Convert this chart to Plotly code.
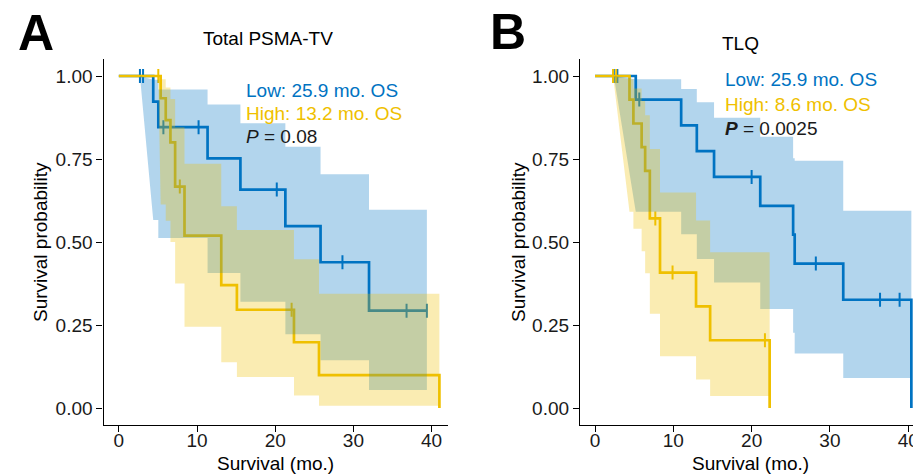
import plotly.graph_objects as go

# ---------------- data ----------------
# Panel A: Total PSMA-TV
a_low_t = [0, 4.4, 5.05, 11.35, 15.55, 21.3, 25.8, 32.0, 39.4]
a_low_s = [1.0, 0.923, 0.846, 0.752, 0.658, 0.548, 0.439, 0.293, 0.293]
a_low_cens = [2.7, 3.1, 5.7, 10.2, 20.2, 28.6, 36.8, 39.4]
a_low_ci_t = [2.7, 4.4, 5.05, 11.35, 15.55, 21.3, 25.8, 32.0]
a_low_ci_lo = [1.0, 0.566, 0.512, 0.407, 0.320, 0.222, 0.144, 0.054]
a_low_ci_hi = [1.0, 0.989, 0.959, 0.914, 0.858, 0.787, 0.704, 0.597]
a_low_ci_end = 39.4

a_high_t = [0, 5.35, 6.0, 6.6, 7.2, 8.4, 13.1, 15.1, 22.4, 25.6, 41.0]
a_high_s = [1.0, 0.933, 0.867, 0.800, 0.667, 0.519, 0.370, 0.296, 0.198, 0.099, 0.0]
a_high_cens = [5.05, 7.8, 22.1]
a_high_ci_t = [5.05, 5.35, 6.0, 6.6, 7.2, 8.4, 13.1, 15.1, 22.4, 25.6]
a_high_ci_lo = [1.0, 0.613, 0.564, 0.500, 0.375, 0.245, 0.138, 0.093, 0.038, 0.007]
a_high_ci_hi = [1.0, 0.990, 0.965, 0.931, 0.846, 0.736, 0.608, 0.536, 0.448, 0.344]
a_high_ci_end = 41.0

# Panel B: TLQ
b_low_t = [0, 5.2, 11.0, 13.0, 15.2, 21.1, 25.3, 25.5, 31.7, 40.4]
b_low_s = [1.0, 0.929, 0.851, 0.774, 0.696, 0.609, 0.522, 0.435, 0.326, 0.0]
b_low_cens = [2.4, 2.85, 5.65, 20.0, 28.2, 36.4, 38.9]
b_low_ci_t = [2.4, 5.2, 11.0, 13.0, 15.2, 21.1, 25.3, 25.5, 31.7]
b_low_ci_lo = [1.0, 0.591, 0.523, 0.449, 0.378, 0.298, 0.227, 0.164, 0.090]
b_low_ci_hi = [1.0, 0.990, 0.961, 0.921, 0.874, 0.817, 0.752, 0.745, 0.594]
b_low_ci_end = 40.4

b_high_t = [0, 4.4, 4.9, 5.95, 6.4, 7.0, 8.3, 12.9, 14.7, 22.3]
b_high_s = [1.0, 0.929, 0.857, 0.786, 0.714, 0.571, 0.408, 0.306, 0.204, 0.0]
b_high_cens = [2.3, 2.7, 7.7, 9.9, 21.7]
b_high_ci_t = [2.3, 4.4, 4.9, 5.95, 6.4, 7.0, 8.3, 12.9, 14.7]
b_high_ci_lo = [1.0, 0.591, 0.540, 0.472, 0.406, 0.284, 0.156, 0.086, 0.036]
b_high_ci_hi = [1.0, 0.990, 0.962, 0.925, 0.882, 0.780, 0.649, 0.565, 0.469]
b_high_ci_end = 22.3

x_ticks = [0, 10, 20, 30, 40]
y_ticks = [0, 0.25, 0.5, 0.75, 1.0]

BLUE = "#0073C2"
YELLOW = "#EFC000"
BLUE_FILL = "rgba(0,115,194,0.30)"
YELLOW_FILL = "rgba(239,192,0,0.30)"
FONT = "Liberation Sans, Arial, sans-serif"
W, H = 913, 475


def surv_at(t, times, surv):
    val = surv[0]
    for ti, si in zip(times, surv):
        if ti <= t:
            val = si
    return val


def ribbon(t, lo, hi, t_end):
    def path(v):
        xs, ys = [t[0]], [v[0]]
        for i in range(1, len(t)):
            if i > 1:
                xs.append(t[i]); ys.append(v[i - 1])
            xs.append(t[i]); ys.append(v[i])
        xs.append(t_end); ys.append(v[-1])
        return xs, ys
    xu, yu = path(hi)
    xl, yl = path(lo)
    return xu + xl[::-1], yu + yl[::-1]


fig = go.Figure()

panels = [
    ("x", "y", [(a_low_t, a_low_s, a_low_cens, BLUE), (a_high_t, a_high_s, a_high_cens, YELLOW)],
     [(a_low_ci_t, a_low_ci_lo, a_low_ci_hi, a_low_ci_end, BLUE_FILL),
      (a_high_ci_t, a_high_ci_lo, a_high_ci_hi, a_high_ci_end, YELLOW_FILL)]),
    ("x2", "y2", [(b_low_t, b_low_s, b_low_cens, BLUE), (b_high_t, b_high_s, b_high_cens, YELLOW)],
     [(b_low_ci_t, b_low_ci_lo, b_low_ci_hi, b_low_ci_end, BLUE_FILL),
      (b_high_ci_t, b_high_ci_lo, b_high_ci_hi, b_high_ci_end, YELLOW_FILL)]),
]

for xa, ya, curves, ribbons in panels:
    for t, s, cens, col in curves:
        fig.add_trace(go.Scatter(x=t, y=s, mode="lines", line=dict(color=col, width=2.7, shape="hv"),
                                 xaxis=xa, yaxis=ya, showlegend=False, hoverinfo="skip"))
        fig.add_trace(go.Scatter(x=cens, y=[surv_at(c, t, s) for c in cens], mode="markers",
                                 marker=dict(symbol="line-ns", size=10, line=dict(color=col, width=2)),
                                 xaxis=xa, yaxis=ya, showlegend=False, hoverinfo="skip"))
    for ct, lo, hi, tend, fc in ribbons:
        px, py = ribbon(ct, lo, hi, tend)
        fig.add_trace(go.Scatter(x=px, y=py, mode="lines", fill="toself", fillcolor=fc,
                                 line=dict(width=0), xaxis=xa, yaxis=ya, showlegend=False,
                                 hoverinfo="skip"))

ydom = [(H - 424.6) / H, (H - 59.4) / H]
axis_common = dict(showline=True, linecolor="black", linewidth=1.3, ticks="outside", ticklen=6,
                   tickwidth=1.3, tickcolor="black", showgrid=False, zeroline=False, automargin=False,
                   tickfont=dict(family=FONT, size=19, color="#1a1a1a"))
x_extra = dict(ticklabelstandoff=-8, ticklabeloverflow="allow")

fig.update_layout(
    width=W, height=H, margin=dict(l=0, r=0, t=0, b=0, pad=0, autoexpand=False),
    paper_bgcolor="white", plot_bgcolor="white",
    xaxis=dict(domain=[103.5 / W, 448 / W], range=[-1.96, 42.1], tickvals=x_ticks, anchor="y",
               **x_extra, **axis_common),
    yaxis=dict(domain=ydom, range=[-0.05, 1.05], tickvals=y_ticks, tickformat=".2f", anchor="x", **axis_common),
    xaxis2=dict(domain=[580 / W, 1.0], range=[-1.92, 40.61], tickvals=x_ticks, anchor="y2",
                **x_extra, **axis_common),
    yaxis2=dict(domain=ydom, range=[-0.05, 1.05], tickvals=y_ticks, tickformat=".2f", anchor="x2", **axis_common),
)


def ann(text, xpx, ypx, size=19, color="#1a1a1a", xanchor="center", angle=0, bold=False):
    fig.add_annotation(text=text, x=xpx / W, y=1 - ypx / H, xref="paper", yref="paper",
                       xanchor=xanchor, yanchor="middle", showarrow=False, textangle=angle,
                       font=dict(family=FONT, size=size, color=color,
                                 weight="bold" if bold else "normal"))


# panel letters and titles
ann("A", 16, 33, size=50, color="black", xanchor="left", bold=True)
ann("B", 488, 32, size=50, color="black", xanchor="left", bold=True)
ann("Total PSMA-TV", 267.5, 39, size=19, color="black")
ann("TLQ", 740.5, 43, size=19, color="black")

# axis titles
ann("Survival probability", 40, 242, angle=-90, color="black")
ann("Survival probability", 518, 242, angle=-90, color="black")
ann("Survival (mo.)", 275, 463, color="black")
ann("Survival (mo.)", 750, 463, color="black")

# in-plot annotations
ann("Low: 25.9 mo. OS", 244, 90, color=BLUE, xanchor="left")
ann("High: 13.2 mo. OS", 244, 113, color=YELLOW, xanchor="left")
ann("<i>P</i> = 0.08", 244, 137, color="#1a1a1a", xanchor="left")
ann("Low: 25.9 mo. OS", 723, 80, color=BLUE, xanchor="left")
ann("High: 8.6 mo. OS", 723, 104, color=YELLOW, xanchor="left")
ann("<b><i>P</i></b> = 0.0025", 723, 128, color="#1a1a1a", xanchor="left")

fig.write_html("out.html", config={"displayModeBar": False},
               post_script="document.body.style.margin='0';document.body.style.overflow='hidden';")
